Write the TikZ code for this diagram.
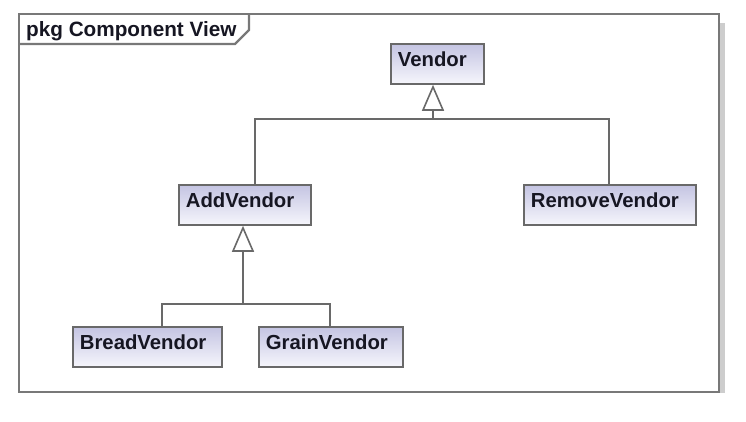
\documentclass[tikz,border=0pt]{standalone}
\usepackage{fontspec}
\setmainfont{Liberation Sans}
\usetikzlibrary{arrows.meta}
\definecolor{vtop}{RGB}{196,196,226}
\definecolor{vbot}{RGB}{246,246,252}
\definecolor{edgegray}{RGB}{105,105,105}
\definecolor{framegray}{RGB}{120,120,120}
\definecolor{shadowgray}{RGB}{205,205,205}
\definecolor{txt}{RGB}{22,22,34}
\tikzset{
  clsbox/.style={draw=edgegray, line width=1.8bp, top color=vtop, bottom color=vbot,
    anchor=north west, inner xsep=7bp, inner ysep=0pt, align=left,
    text height=23bp, text depth=17bp, text=txt,
    font=\fontsize{20.4}{24}\selectfont\bfseries},
  conn/.style={draw=edgegray, line width=1.8bp},
  gen/.style={conn, -{Triangle[open, length=26bp, width=22bp, line width=1.6bp]}},
  framestyle/.style={draw=framegray, line width=2.2bp},
}
\begin{document}
\begin{tikzpicture}[x=1bp, y=-1bp]
\useasboundingbox (0,0) rectangle (746,421);
% frame shadow and frame
\fill[shadowgray] (720,23) rectangle (725,393);
\draw[framestyle] (19,14) rectangle (719,392);
\draw[framestyle] (19,44) -- (235,44) -- (249,30) -- (249,14);
\node[anchor=base west, inner sep=0pt, text=txt, font=\fontsize{20.8}{24}\selectfont\bfseries] (title) at (26,36) {pkg Component View};
% classes
\node[clsbox, text width=79bp]  (vendor) at (390,43)  {Vendor};
\node[clsbox, text width=158bp] (remv)   at (523,184) {RemoveVendor};
\node[clsbox, text width=118bp] (addv)   at (178,184) {AddVendor};
\node[clsbox, text width=135bp] (bread)  at (72,326)  {BreadVendor};
\node[clsbox, text width=130bp] (grain)  at (258,326) {GrainVendor};
% junctions
\coordinate (j1) at (433,119);
\coordinate (j2) at (243,304);
% generalizations
\draw[conn] ([xshift=10bp]addv.north) |- (j1) -| ([xshift=-1bp]remv.north);
\draw[gen] (j1) -- (j1 |- vendor.south);
\draw[conn] ([xshift=14.5bp]bread.north) |- (j2) -| ([xshift=-1bp]grain.north);
\draw[gen] (j2) -- (j2 |- addv.south);
\end{tikzpicture}
\end{document}
